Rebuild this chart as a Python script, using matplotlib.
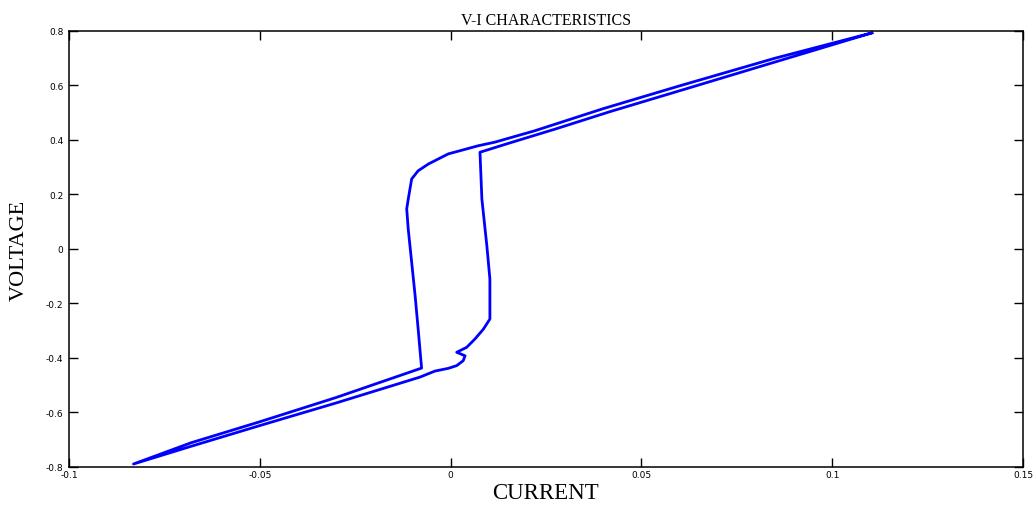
import matplotlib
matplotlib.use("Agg")
import matplotlib.pyplot as plt
import numpy as np

# current (A) and voltage (V), in drawing order
# going down: upper branch (lower line) -> right leg -> lower branch (lower line)
current_down = [0.1104, 0.0850, 0.0601, 0.0420, 0.0274, 0.0150, 0.0077,
                0.0082, 0.0095, 0.0103, 0.0103, 0.0086, 0.0064, 0.0042,
                0.0016, 0.0038, 0.0033, 0.0016, -0.0006, -0.0041, -0.0080,
                -0.0300, -0.0500, -0.0680, -0.0831]
voltage_down = [0.793, 0.686, 0.581, 0.505, 0.440, 0.387, 0.355,
                0.183, 0.012, -0.110, -0.257, -0.294, -0.330, -0.361,
                -0.379, -0.392, -0.410, -0.428, -0.438, -0.448, -0.470,
                -0.565, -0.648, -0.724, -0.789]

# going up: lower branch (upper line) -> left leg -> knee -> upper branch (upper line)
current_up = [-0.0831, -0.0680, -0.0500, -0.0300, -0.0076, -0.0085,
              -0.0093, -0.0102, -0.0111, -0.0115, -0.0111, -0.0102,
              -0.0085, -0.0058, -0.0006, 0.0073, 0.0116, 0.0221, 0.0400,
              0.0601, 0.0850, 0.1104]
voltage_up = [-0.789, -0.711, -0.634, -0.545, -0.437, -0.294,
              -0.171, -0.049, 0.073, 0.147, 0.183, 0.257,
              0.287, 0.312, 0.349, 0.379, 0.392, 0.434, 0.515,
              0.599, 0.700, 0.793]

xticks = [-0.1, -0.05, 0, 0.05, 0.1, 0.15]
xticklabels = ["-0.1", "-0.05", "0", "0.05", "0.1", "0.15"]
yticks = [-0.8, -0.6, -0.4, -0.2, 0, 0.2, 0.4, 0.6, 0.8]
yticklabels = ["-0.8", "-0.6", "-0.4", "-0.2", "0", "0.2", "0.4", "0.6", "0.8"]

fig = plt.figure(figsize=(10.33, 5.06), dpi=100)
ax = fig.add_axes([0.0668, 0.0751, 0.9235, 0.8617])

I = np.concatenate([current_down, current_up])
V = np.concatenate([voltage_down, voltage_up])
ax.plot(I, V, color="#0000ff", linewidth=2.0, solid_joinstyle="round")

ax.set_xlim(-0.1, 0.15)
ax.set_ylim(-0.8, 0.8)
ax.set_xticks(xticks)
ax.set_xticklabels(xticklabels)
ax.set_yticks(yticks)
ax.set_yticklabels(yticklabels)
ax.tick_params(direction="in", length=6.5, width=1, top=True, right=True,
               labelsize=6.5, pad=2)
ax.tick_params(axis="y", pad=4)
for s in ax.spines.values():
    s.set_linewidth(1.1)

serif = ["Liberation Serif", "DejaVu Serif"]
ax.set_title("V-I CHARACTERISTICS", family=serif, fontsize=11.5, pad=5)
ax.set_xlabel("CURRENT", family=serif, fontsize=16.5, labelpad=2)
ax.set_ylabel("VOLTAGE", family=serif, fontsize=16, labelpad=12)

fig.savefig("out.png", dpi=100)
